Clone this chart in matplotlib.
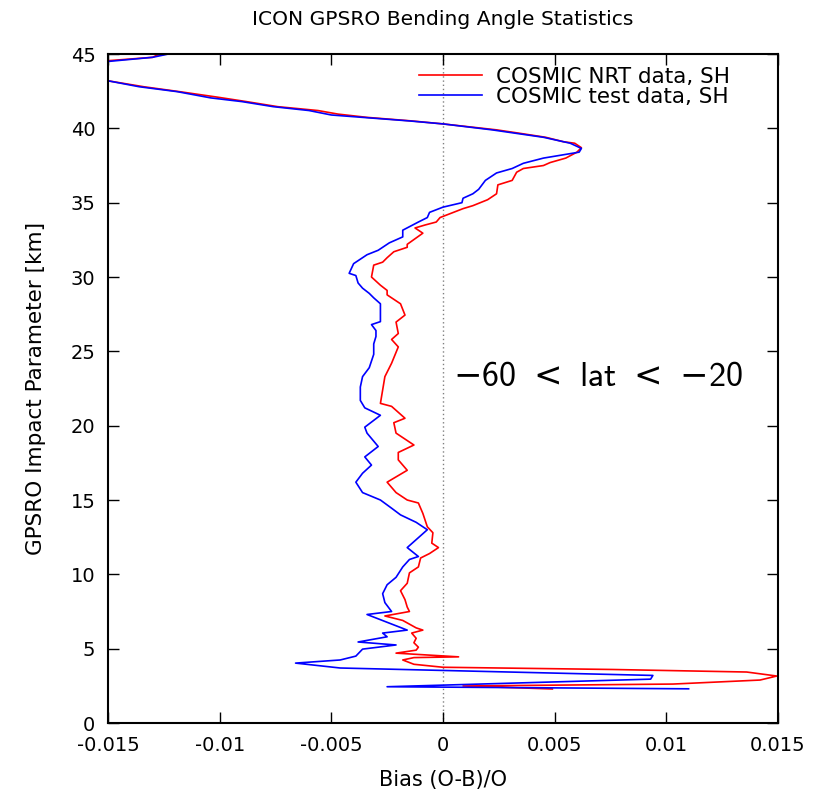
"""ICON GPSRO bending angle bias profile (COSMIC NRT vs test, SH)."""

import matplotlib

matplotlib.use("Agg")
import matplotlib.pyplot as plt  # noqa: E402

# impact parameter [km] and bias (O-B)/O, bottom to top
nrt_height = [2.29, 2.49, 2.62, 2.89, 3.16, 3.43, 3.6, 3.75, 3.95, 4.24, 4.4, 4.45, 4.7,
              4.9, 5.1, 5.4, 5.7, 6.05, 6.25, 6.4, 6.9, 7.2, 7.5, 7.8, 8.3, 8.9, 9.4,
              10.1, 10.5, 11.1, 11.4, 11.8, 12.1, 12.8, 13.2, 14.1, 14.8, 15.0, 15.5,
              16.2, 17.0, 17.7, 18.2, 18.7, 19.5, 20.2, 20.5, 21.3, 21.5, 22.4, 23.3,
              24.2, 25.3, 25.8, 26.2, 26.97, 27.44, 28.2, 28.8, 29.1, 29.45, 30.0, 30.8,
              31.0, 31.3, 31.7, 32.0, 32.2, 32.95, 33.3, 33.5, 33.7, 34.0, 34.6, 34.8,
              35.2, 35.6, 36.2, 36.5, 37.05, 37.3, 37.5, 37.7, 38.0, 38.4, 38.7, 39.0,
              39.1, 39.4, 39.7, 39.9, 40.3, 40.5, 40.74, 40.96, 41.2, 41.46, 41.8, 42.1,
              42.47, 42.8, 43.2, 43.8, 44.3, 44.55, 44.78, 44.93, 45.3]
nrt_bias = [0.0049, 0.0009, 0.0103, 0.0142, 0.01495, 0.0136, 0.0076, 0.0, -0.0013, -0.0018,
            -0.0013, 0.0007, -0.0021, -0.0012, -0.0011, -0.0013, -0.0012, -0.0014, -0.0009,
            -0.0012, -0.0018, -0.0026, -0.0015, -0.0016, -0.0017, -0.0019, -0.0016, -0.0015,
            -0.0011, -0.0010, -0.0006, -0.0002, -0.0005, -0.00045, -0.0007, -0.0009, -0.0011,
            -0.0016, -0.0021, -0.0025, -0.0016, -0.0020, -0.0020, -0.0013, -0.0021, -0.0022,
            -0.0017, -0.0023, -0.0028, -0.0027, -0.0026, -0.0023, -0.0020, -0.0023, -0.0020,
            -0.0021, -0.0017, -0.0019, -0.0025, -0.0025, -0.0028, -0.0032, -0.0031, -0.0027,
            -0.0025, -0.0022, -0.0016, -0.0016, -0.0009, -0.00125, -0.0008, -0.0003, -0.00013,
            0.0009, 0.00134, 0.0020, 0.0024, 0.00246, 0.0031, 0.0033, 0.0036, 0.0045, 0.0048,
            0.0055, 0.0060, 0.0062, 0.0059, 0.0054, 0.0046, 0.0033, 0.0024, 0.0, -0.0014,
            -0.0034, -0.0047, -0.0056, -0.0074, -0.0088, -0.0101, -0.0118, -0.0134, -0.0150,
            -0.0170, -0.0160, -0.0150, -0.0130, -0.0128, -0.0105]

test_height = [2.30, 2.44, 2.95, 3.2, 3.7, 4.03, 4.24, 4.5, 4.97, 5.25, 5.45, 5.8, 6.05,
               6.25, 7.3, 7.5, 8.1, 8.7, 9.3, 9.8, 10.5, 11.0, 11.2, 11.8, 13.0, 13.5,
               14.0, 14.45, 15.0, 15.5, 16.2, 16.8, 17.35, 17.9, 18.6, 19.5, 19.9, 20.7,
               21.2, 21.7, 22.6, 23.3, 23.9, 24.8, 25.5, 26.0, 26.4, 26.8, 27.0, 27.6,
               28.2, 28.6, 28.9, 29.25, 29.6, 30.1, 30.25, 30.9, 31.1, 31.3, 31.5, 31.8,
               32.3, 32.7, 33.15, 33.7, 34.0, 34.35, 34.7, 35.0, 35.3, 35.6, 35.9, 36.5,
               37.0, 37.3, 37.65, 38.0, 38.4, 38.65, 39.0, 39.4, 39.9, 40.3, 40.5, 40.74,
               40.9, 41.2, 41.46, 41.8, 42.05, 42.47, 42.8, 43.2, 43.8, 44.3, 44.5, 44.78,
               45.0, 45.3]
test_bias = [0.0110, -0.0025, 0.0093, 0.0094, -0.0046, -0.0066, -0.0046, -0.0039, -0.0036,
             -0.0021, -0.0038, -0.0025, -0.0027, -0.0016, -0.0034, -0.0023, -0.0026, -0.0027,
             -0.0025, -0.0021, -0.0018, -0.0015, -0.0011, -0.0016, -0.0007, -0.0012, -0.0019,
             -0.0023, -0.0028, -0.0036, -0.0039, -0.0036, -0.0032, -0.0035, -0.0029, -0.0034,
             -0.0035, -0.0028, -0.0035, -0.0037, -0.0037, -0.0036, -0.0033, -0.0031, -0.0031,
             -0.0030, -0.0030, -0.0032, -0.0028, -0.0028, -0.0028, -0.0031, -0.0033, -0.0036,
             -0.0038, -0.0039, -0.0042, -0.0040, -0.0038, -0.0036, -0.0034, -0.0029, -0.0024,
             -0.0018, -0.0018, -0.0011, -0.0007, -0.0006, 0.0, 0.00085, 0.0009, 0.00134,
             0.0016, 0.0019, 0.0024, 0.0031, 0.0036, 0.0045, 0.0061, 0.0062, 0.0057, 0.0045,
             0.0022, 0.0, -0.0015, -0.0036, -0.0050, -0.0060, -0.0076, -0.0090, -0.0104,
             -0.0119, -0.0136, -0.0150, -0.0170, -0.0160, -0.0150, -0.0130, -0.0123, -0.0105]

x_ticks = [-0.015, -0.01, -0.005, 0, 0.005, 0.01, 0.015]
x_tick_labels = ["-0.015", "-0.01", "-0.005", "0", "0.005", "0.01", "0.015"]
y_ticks = [0, 5, 10, 15, 20, 25, 30, 35, 40, 45]

plt.rcParams["font.family"] = ["DejaVu Sans"]
# sans-serif computer modern for the latitude band annotation
plt.rcParams["mathtext.fontset"] = "custom"
plt.rcParams["mathtext.sf"] = "cmss10"
plt.rcParams["mathtext.rm"] = "DejaVu Sans"
plt.rcParams["mathtext.fallback"] = "cm"

fig = plt.figure(figsize=(8.18, 7.9), dpi=100)
ax = fig.add_axes([0.132, 0.0848, 0.819, 0.8468])

ax.axvline(0, color="#808080", lw=1.0, ls=(0, (1, 2)), zorder=1)
ax.plot(nrt_bias, nrt_height, "-", color="#ff0000", lw=1.2, label="COSMIC NRT data, SH")
ax.plot(test_bias, test_height, "-", color="#0000ff", lw=1.2, label="COSMIC test data, SH")

ax.set_xlim(-0.015, 0.015)
ax.set_ylim(0, 45)
ax.set_xticks(x_ticks)
ax.set_xticklabels(x_tick_labels)
ax.set_yticks(y_ticks)
ax.tick_params(direction="in", length=8, width=1, top=True, right=True,
               labelsize=14, pad=9)
for side in ax.spines.values():
    side.set_linewidth(1.5)

ax.set_xlabel("Bias (O-B)/O", fontsize=15, labelpad=11)
ax.set_ylabel("GPSRO Impact Parameter [km]", fontsize=15.5, labelpad=18)
ax.set_title("ICON GPSRO Bending Angle Statistics", fontsize=14.6, pad=21)

ax.text(0.00045, 23.3, r"$-\mathsf{60}\ <\ \mathsf{lat}\ <\ {-}\mathsf{20}$", fontsize=24.5,
        ha="left", va="center")

ax.legend(loc="upper right", frameon=False, fontsize=15.5, handlelength=2.93,
          handletextpad=0.65, labelspacing=0.0, borderaxespad=0.0, borderpad=0.0,
          bbox_to_anchor=(0.928, 0.981))

fig.savefig("out.png", dpi=100)
plt.close(fig)
